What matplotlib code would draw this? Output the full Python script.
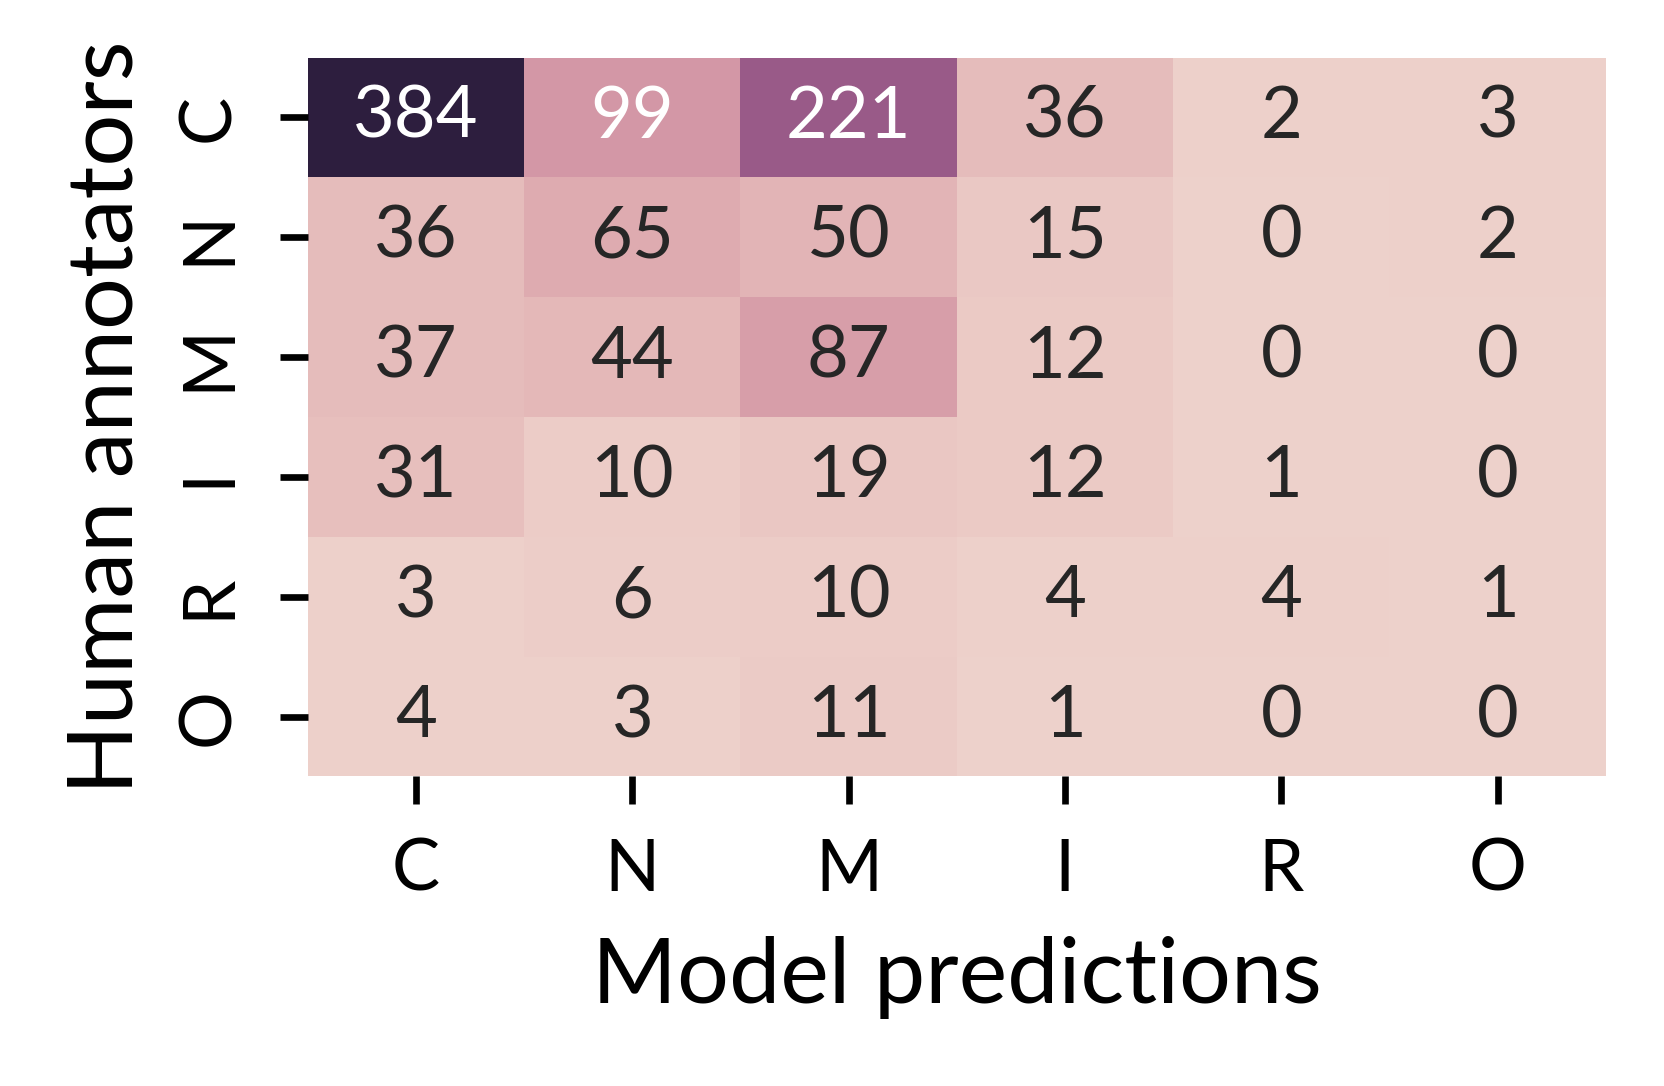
import numpy as np
import matplotlib
matplotlib.use("Agg")
import matplotlib.pyplot as plt
import seaborn as sns

labels = ["C", "N", "M", "I", "R", "O"]

# rows: human annotators, columns: model predictions
row_c = [384, 99, 221, 36, 2, 3]
row_n = [36, 65, 50, 15, 0, 2]
row_m = [37, 44, 87, 12, 0, 0]
row_i = [31, 10, 19, 12, 1, 0]
row_r = [3, 6, 10, 4, 4, 1]
row_o = [4, 3, 11, 1, 0, 0]

conf = np.array([row_c, row_n, row_m, row_i, row_r, row_o])

plt.rcParams['font.family'] = ['Lato', 'DejaVu Sans']

fig = plt.figure(figsize=(8.32, 5.43), dpi=200)
ax = fig.add_axes([0.185, 0.285, 0.78, 0.662])

sns.heatmap(conf, annot=True, fmt="d", cbar=False,
            cmap=sns.cubehelix_palette(as_cmap=True),
            xticklabels=labels, yticklabels=labels,
            annot_kws={"fontsize": 26}, ax=ax)

ax.tick_params(axis='both', length=10, width=2.4, labelsize=26)
ax.tick_params(axis='x', pad=12)
ax.tick_params(axis='y', pad=14)
plt.setp(ax.get_yticklabels(), rotation=90, va='center')
ax.set_xlabel("Model predictions", fontsize=33, labelpad=12)
ax.set_ylabel("Human annotators", fontsize=33, labelpad=10)

fig.savefig("out.png", dpi=200)
